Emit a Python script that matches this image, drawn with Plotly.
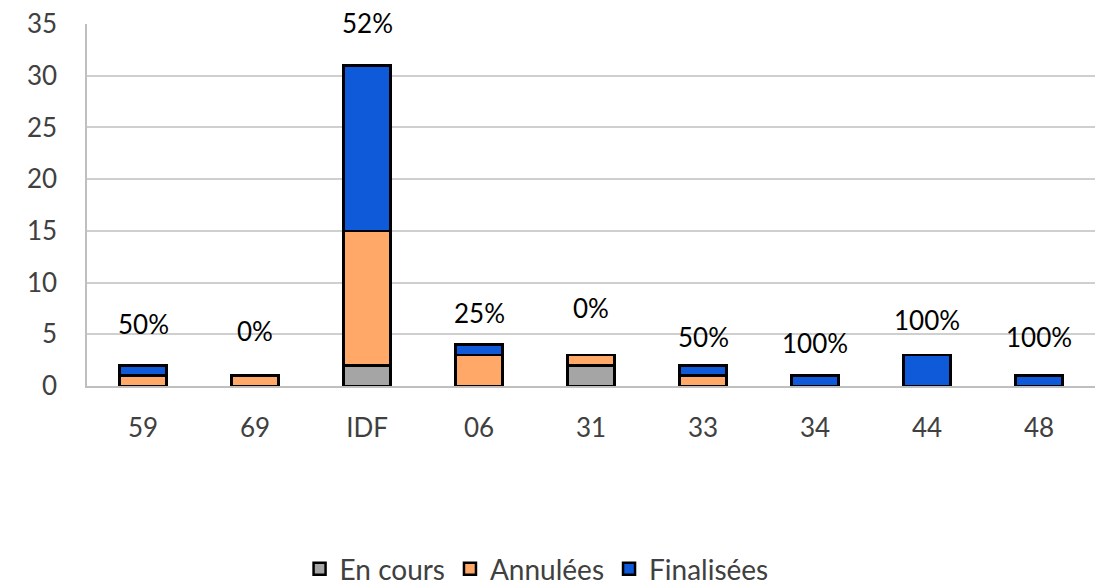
import plotly.graph_objects as go

categories = ["59", "69", "IDF", "06", "31", "33", "34", "44", "48"]
en_cours = [0, 0, 2, 0, 2, 0, 0, 0, 0]
annulees = [1, 1, 13, 3, 1, 1, 0, 0, 0]
finalisees = [1, 0, 16, 1, 0, 1, 1, 3, 1]
pct_labels = ["50%", "0%", "52%", "25%", "0%", "50%", "100%", "100%", "100%"]
label_y = [6.0, 5.3, 35.1, 7.1, 7.5, 4.75, 4.2, 6.4, 4.75]
y_max = 35

colors = {"En cours": "#A5A5A5", "Annulées": "#FFA868", "Finalisées": "#0F5AD9"}
series = [("En cours", en_cours), ("Annulées", annulees), ("Finalisées", finalisees)]

font_family = "Lato, 'Open Sans', sans-serif"

fig = go.Figure()
for name, vals in series:
    fig.add_trace(go.Bar(
        x=categories,
        y=[v if v else None for v in vals],
        name=name,
        marker=dict(color=colors[name], line=dict(color="black", width=2.5)),
        width=0.42,
    ))

# category axis: annotation x given as category index
for idx, (txt, ly) in enumerate(zip(pct_labels, label_y)):
    fig.add_annotation(
        x=idx, xref="x", y=ly / y_max, yref="paper", text=txt, showarrow=False,
        xanchor="center", yanchor="middle",
        font=dict(size=26, color="black", family=font_family),
    )

fig.update_layout(
    barmode="stack",
    width=1099, height=577,
    margin=dict(l=79, r=12, t=16, b=199, autoexpand=False),
    plot_bgcolor="white", paper_bgcolor="white",
    font=dict(family=font_family, size=26, color="#404040"),
    legend=dict(orientation="h", x=0.446, xanchor="center", y=-0.506, yanchor="middle",
                font=dict(size=28, color="#404040"), traceorder="normal",
                tracegroupgap=0),
    xaxis=dict(type="category", categoryorder="array", categoryarray=categories,
               range=[-0.5, len(categories) - 0.5],
               showline=True, linecolor="#BFBFBF", linewidth=1.5, showgrid=False,
               automargin=False,
               ticks="", ticklabelstandoff=18, tickfont=dict(size=26, color="#404040")),
    yaxis=dict(range=[0, y_max], dtick=5, showline=True, linecolor="#BFBFBF", linewidth=1.5,
               automargin=False, ticklabeloverflow="allow",
               gridcolor="#CFCFCF", gridwidth=1.5, zeroline=False, ticks="",
               ticklabelstandoff=23, tickfont=dict(size=26, color="#404040")),
)

fig.write_html("out.html")
